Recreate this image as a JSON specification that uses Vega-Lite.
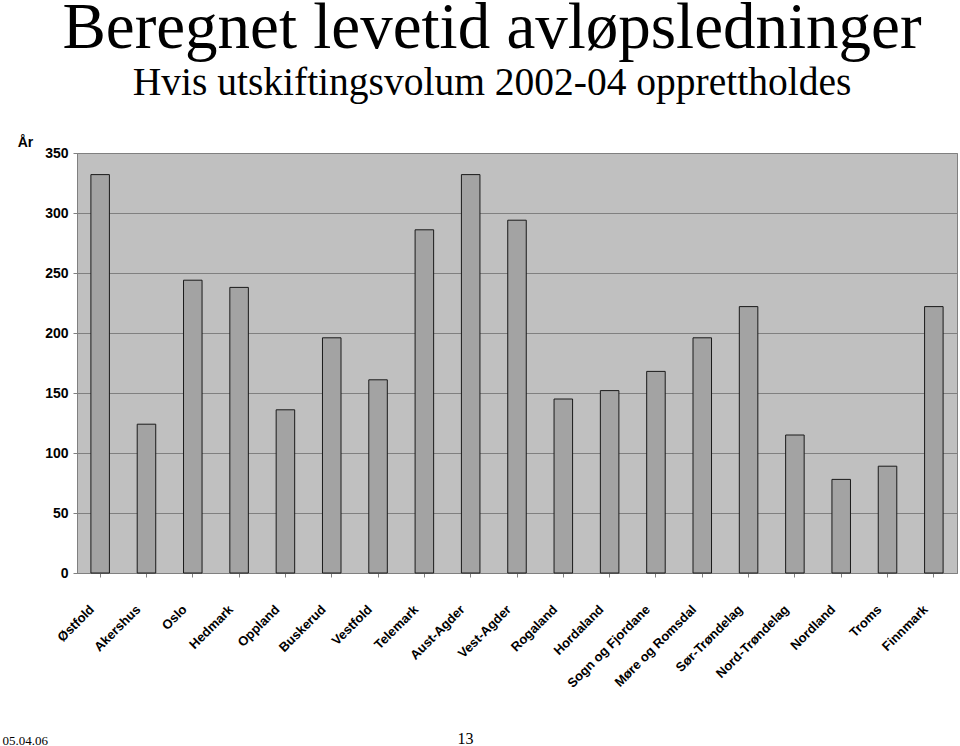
{
  "$schema": "https://vega.github.io/schema/vega-lite/v6.json",
  "autosize": {"type": "none"},
  "width": 880,
  "height": 420,
  "padding": {"left": 77, "top": 153, "right": 3, "bottom": 173},
  "background": "white",
  "title": {
    "text": "Beregnet levetid avløpsledninger",
    "subtitle": "Hvis utskiftingsvolum 2002-04 opprettholdes",
    "font": "Liberation Serif",
    "fontSize": 65,
    "fontWeight": "normal",
    "color": "black",
    "subtitleFont": "Liberation Serif",
    "subtitleFontSize": 39.5,
    "subtitleColor": "black",
    "subtitlePadding": 2,
    "anchor": "middle",
    "dx": -25,
    "offset": 32
  },
  "config": {
    "view": {"fill": "#C0C0C0", "stroke": "#808080", "strokeWidth": 1}
  },
  "data": {
    "values": [
      {"fylke": "Østfold", "ar": 332},
      {"fylke": "Akershus", "ar": 124},
      {"fylke": "Oslo", "ar": 244},
      {"fylke": "Hedmark", "ar": 238},
      {"fylke": "Oppland", "ar": 136},
      {"fylke": "Buskerud", "ar": 196},
      {"fylke": "Vestfold", "ar": 161},
      {"fylke": "Telemark", "ar": 286},
      {"fylke": "Aust-Agder", "ar": 332},
      {"fylke": "Vest-Agder", "ar": 294},
      {"fylke": "Rogaland", "ar": 145},
      {"fylke": "Hordaland", "ar": 152},
      {"fylke": "Sogn og Fjordane", "ar": 168},
      {"fylke": "Møre og Romsdal", "ar": 196},
      {"fylke": "Sør-Trøndelag", "ar": 222},
      {"fylke": "Nord-Trøndelag", "ar": 115},
      {"fylke": "Nordland", "ar": 78},
      {"fylke": "Troms", "ar": 89},
      {"fylke": "Finnmark", "ar": 222}
    ]
  },
  "encoding": {
    "x": {
      "field": "fylke",
      "type": "nominal",
      "sort": null,
      "scale": {"paddingInner": 0.6, "paddingOuter": 0.3},
      "axis": {
        "title": "05.04.06",
        "titleFont": "Liberation Serif",
        "titleFontSize": 13,
        "titleFontWeight": "normal",
        "titleColor": "black",
        "titleAlign": "left",
        "titleBaseline": "alphabetic",
        "titleX": -75,
        "titleY": 171,
        "labelAngle": -45,
        "labelAlign": "right",
        "labelBaseline": "middle",
        "labelFont": "Liberation Sans",
        "labelFontWeight": "bold",
        "labelFontSize": 13,
        "labelColor": "black",
        "labelPadding": 30,
        "labelOffset": -8,
        "ticks": true,
        "tickSize": 4,
        "tickColor": "#808080",
        "domainColor": "#808080",
        "grid": false
      }
    }
  },
  "layer": [
    {
      "mark": {"type": "bar", "fill": "#A3A3A3", "stroke": "#1a1a1a", "strokeWidth": 1},
      "encoding": {
        "y": {
          "field": "ar",
          "type": "quantitative",
          "scale": {"domain": [0, 350], "nice": false},
          "axis": {
            "title": "År",
            "titleAngle": 0,
            "titleX": -52,
            "titleY": -11,
            "titleAlign": "center",
            "titleBaseline": "middle",
            "titleFont": "Liberation Sans",
            "titleFontSize": 14,
            "titleFontWeight": "bold",
            "titleColor": "black",
            "values": [0, 50, 100, 150, 200, 250, 300, 350],
            "labelFont": "Liberation Sans",
            "labelFontWeight": "bold",
            "labelFontSize": 14,
            "labelColor": "black",
            "labelPadding": 5,
            "tickSize": 4,
            "tickColor": "#808080",
            "domainColor": "#808080",
            "grid": true,
            "gridColor": "#808080",
            "gridWidth": 1
          }
        }
      }
    },
    {
      "mark": {"type": "bar", "opacity": 0},
      "encoding": {
        "y": {
          "field": "ar",
          "type": "quantitative",
          "scale": {"domain": [0, 350], "nice": false},
          "axis": {
            "orient": "right",
            "title": "13",
            "titleAngle": 0,
            "titleX": -492,
            "titleY": 590,
            "titleAlign": "center",
            "titleBaseline": "alphabetic",
            "titleFont": "Liberation Serif",
            "titleFontSize": 16,
            "titleFontWeight": "normal",
            "titleColor": "black",
            "labels": false,
            "ticks": false,
            "domain": false,
            "grid": false
          }
        }
      }
    }
  ],
  "resolve": {"axis": {"y": "independent"}}
}
